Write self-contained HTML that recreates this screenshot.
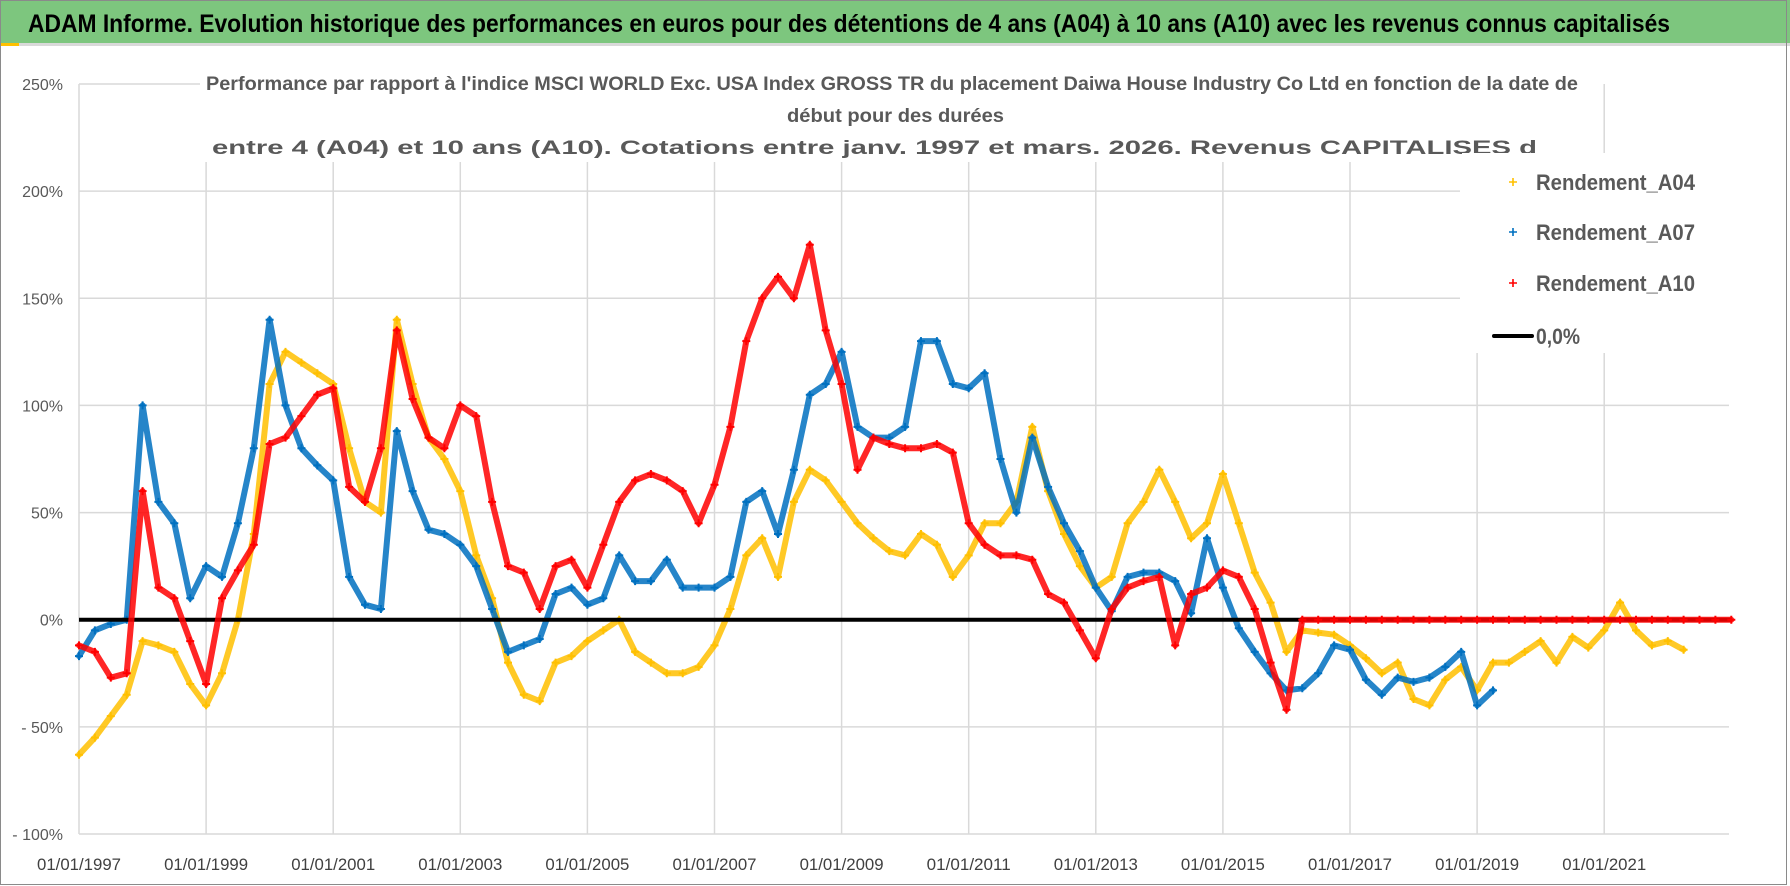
<!DOCTYPE html>
<html><head><meta charset="utf-8"><style>
html,body{margin:0;padding:0;background:#fff;}
svg{display:block;}
</style></head><body>
<svg id="chart" width="1790" height="886" viewBox="0 0 1790 886" xmlns="http://www.w3.org/2000/svg" font-family="'Liberation Sans', sans-serif">
  <rect x="0" y="0" width="1790" height="886" fill="#fff"/>
  <rect x="0" y="0" width="1790" height="43" fill="#7DC67E"/>
  <rect x="0" y="43" width="1790" height="3" fill="#d9d9d9"/>
  <rect x="0" y="43" width="19" height="3" fill="#FFC000"/>
  <rect x="0.5" y="0.5" width="1786" height="884" fill="none" stroke="#8a8a8a" stroke-width="1"/>
  <text x="28" y="32" font-size="25" font-weight="bold" fill="#000" textLength="1642" lengthAdjust="spacingAndGlyphs">ADAM Informe. Evolution historique des performances en euros pour des détentions de 4 ans (A04) à 10 ans (A10) avec les revenus connus capitalisés</text>
  <g id="grid"></g>
  <g id="yaxis"></g>
  <g id="xaxis"></g>
  <g id="series"></g>
  <rect x="200" y="66" width="1385" height="96" fill="#fff"/>
  <text x="206" y="90" font-size="19" font-weight="bold" fill="#595959" textLength="1372" lengthAdjust="spacingAndGlyphs">Performance par rapport à l'indice MSCI WORLD Exc. USA Index GROSS TR  du placement Daiwa House Industry Co Ltd en fonction de la date de</text>
  <text x="787" y="122" font-size="19" font-weight="bold" fill="#595959" textLength="217" lengthAdjust="spacingAndGlyphs">début pour des durées</text>
  <text x="212" y="154" font-size="19" font-weight="bold" fill="#595959" textLength="1325" lengthAdjust="spacingAndGlyphs">entre 4 (A04) et 10 ans (A10).  Cotations entre janv. 1997 et mars. 2026. Revenus CAPITALISES d</text>
  <rect x="1462" y="153" width="320" height="200" fill="#fff"/>
  <g>
    <g>
      <path d="M1509 182h8M1513 178v8" stroke="#FFC000" stroke-width="1.6"/>
      <text x="1536" y="190" font-size="22" font-weight="bold" fill="#595959" textLength="159" lengthAdjust="spacingAndGlyphs">Rendement_A04</text>
    </g>
    <g>
      <path d="M1509 232h8M1513 228v8" stroke="#0070C0" stroke-width="1.6"/>
      <text x="1536" y="240" font-size="22" font-weight="bold" fill="#595959" textLength="159" lengthAdjust="spacingAndGlyphs">Rendement_A07</text>
    </g>
    <g>
      <path d="M1509 283h8M1513 279v8" stroke="#FF0000" stroke-width="1.6"/>
      <text x="1536" y="291" font-size="22" font-weight="bold" fill="#595959" textLength="159" lengthAdjust="spacingAndGlyphs">Rendement_A10</text>
    </g>
    <g>
      <line x1="1494" y1="336" x2="1532" y2="336" stroke="#000" stroke-width="4" stroke-linecap="round"/>
      <text x="1536" y="344" font-size="22" font-weight="bold" fill="#595959" textLength="44" lengthAdjust="spacingAndGlyphs">0,0%</text>
    </g>
  </g>
</svg>
<script>
// ---- data (quarterly readings, % vs index) ----
const startYear = 1997;
const stepYears = 0.25;
const yTicks = [250, 200, 150, 100, 50, 0, -50, -100];
const yTickLabels = ["250%", "200%", "150%", "100%", "50%", "0%", "- 50%", "- 100%"];
const xTickYears = [1997, 1999, 2001, 2003, 2005, 2007, 2009, 2011, 2013, 2015, 2017, 2019, 2021];
const xTickLabels = ["01/01/1997","01/01/1999","01/01/2001","01/01/2003","01/01/2005","01/01/2007","01/01/2009","01/01/2011","01/01/2013","01/01/2015","01/01/2017","01/01/2019","01/01/2021"];
const rendementA04 = [-63,-55,-45,-35, -10,-12,-15,-30, -40,-25,0,40, 110,125,120,115, 110,80,55,50, 140,110,85,75, 60,30,10,-20, -35,-38,-20,-17, -10,-5,0,-15, -20,-25,-25,-22, -12,5,30,38, 20,55,70,65, 55,45,38,32, 30,40,35,20, 30,45,45,55, 90,60,40,25, 15,20,45,55, 70,55,38,45, 68,45,22,8, -15,-5,-6,-7, -12,-18,-25,-20, -37,-40,-28,-22, -33,-20,-20,-15, -10,-20,-8,-13, -5,8,-5,-12, -10,-14];
const rendementA07 = [-17,-5,-2,0, 100,55,45,10, 25,20,45,80, 140,100,80,72, 65,20,7,5, 88,60,42,40, 35,25,5,-15, -12,-9,12,15, 7,10,30,18, 18,28,15,15, 15,20,55,60, 40,70,105,110, 125,90,85,85, 90,130,130,110, 108,115,75,50, 85,62,45,32, 15,4,20,22, 22,18,3,38, 15,-4,-15,-25, -33,-32,-25,-12, -14,-28,-35,-27, -29,-27,-22,-15, -40,-33];
const rendementA10 = [-12,-15,-27,-25, 60,15,10,-10, -30,10,23,35, 82,85,95,105, 108,62,55,80, 135,103,85,80, 100,95,55,25, 22,5,25,28, 15,35,55,65, 68,65,60,45, 63,90,130,150, 160,150,175,135, 110,70,85,82, 80,80,82,78, 45,35,30,30, 28,12,8,-5, -18,5,15,18, 20,-12,12,15, 23,20,5,-20, -42, 0,0,0, 0,0,0,0, 0,0,0,0, 0,0,0,0, 0,0,0,0, 0,0,0,0, 0,0,0,0, 0];
const zeroLineRange = [1997, 2023];

// ---- axes ----
const NS = "http://www.w3.org/2000/svg";
const plotLeft = 79, plotRight = 1729, yTop = 84, yBottom = 834;
const pxPerYear = 63.55;
function xScale(year){ return plotLeft + (year - 1997) * pxPerYear; }
function yScale(v){ return yBottom - (v - (-100)) * (yBottom - yTop) / 350; }
function mk(tag, attrs, parent){ const e = document.createElementNS(NS, tag); for (const k in attrs) e.setAttribute(k, attrs[k]); parent.appendChild(e); return e; }

const grid = document.getElementById('grid');
yTicks.forEach(function(t){
  const y = yScale(t);
  const x2 = (t >= 150) ? 1460 : plotRight;
  const l = mk('line', {x1: plotLeft, y1: y, x2: x2, y2: y, stroke: '#d9d9d9', 'stroke-width': 1.5}, grid);
  
  
});
xTickYears.forEach(function(yr){
  const x = xScale(yr);
  const l = mk('line', {x1: x, y1: yTop, x2: x, y2: yBottom, stroke: '#d9d9d9', 'stroke-width': 1.5}, grid);
  
  
});
const yax = document.getElementById('yaxis');
yTicks.forEach(function(t, i){
  const tx = mk('text', {x: 63, y: yScale(t) + 6, 'font-size': 16, fill: '#595959', 'text-anchor': 'end'}, yax);
  tx.textContent = yTickLabels[i];
  
  
});
const xax = document.getElementById('xaxis');
xTickYears.forEach(function(yr, i){
  const tx = mk('text', {x: xScale(yr) - 42, y: 870, 'font-size': 17, fill: '#404040', textLength: 84, lengthAdjust: 'spacingAndGlyphs'}, xax);
  tx.textContent = xTickLabels[i];
  
  
});

// ---- series ----
const sg = document.getElementById('series');
function drawSeries(values, color, name){
  const g = mk('g', {}, sg);
  
  
  const pts = values.map(function(v, i){ return xScale(startYear + i * stepYears).toFixed(1) + ',' + yScale(v).toFixed(1); });
  const pl = mk('polyline', {points: pts.join(' '), fill: 'none', stroke: color, 'stroke-width': 6, 'stroke-linejoin': 'round', 'stroke-linecap': 'round', opacity: 0.85}, g);
  
  
  let d = '';
  values.forEach(function(v, i){
    const x = xScale(startYear + i * stepYears), y = yScale(v);
    d += 'M' + (x - 4).toFixed(1) + ' ' + y.toFixed(1) + 'h8M' + x.toFixed(1) + ' ' + (y - 4).toFixed(1) + 'v8';
  });
  const mp = mk('path', {d: d, stroke: color, 'stroke-width': 2, fill: 'none'}, g);
  
  
}
drawSeries(rendementA04, '#FFC000', 'series-rendement-a04');
drawSeries(rendementA07, '#0070C0', 'series-rendement-a07');
const zl = mk('line', {x1: xScale(zeroLineRange[0]), y1: yScale(0), x2: xScale(zeroLineRange[1]), y2: yScale(0), stroke: '#000', 'stroke-width': 4}, sg);


drawSeries(rendementA10, '#FF0000', 'series-rendement-a10');
</script>
</body></html>
